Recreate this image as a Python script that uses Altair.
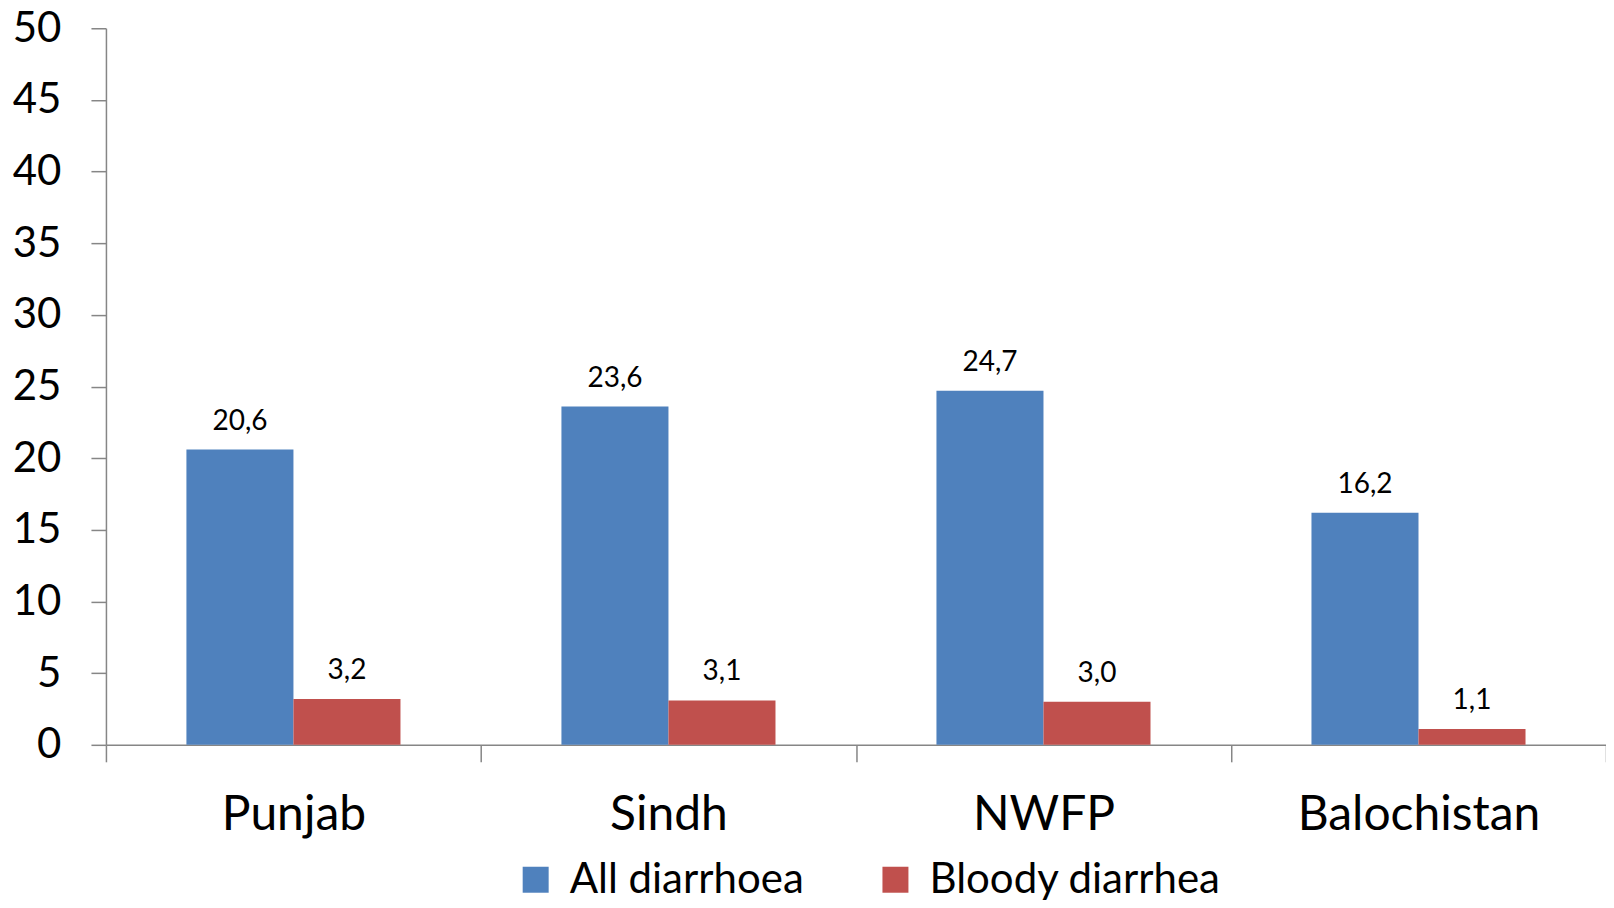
import altair as alt
import pandas as pd

regions = ["Punjab", "Sindh", "NWFP", "Balochistan"]
series = ["All diarrhoea", "Bloody diarrhea"]
all_diarrhoea = [20.6, 23.6, 24.7, 16.2]
bloody_diarrhea = [3.2, 3.1, 3.0, 1.1]
colors = ["#4F81BD", "#C0504D"]

rows = []
for r, a, b in zip(regions, all_diarrhoea, bloody_diarrhea):
    rows.append({"region": r, "series": series[0], "value": a})
    rows.append({"region": r, "series": series[1], "value": b})
df = pd.DataFrame(rows)

FONT = "Lato"
axis_color = "#868686"

x_enc = alt.X("region:N", sort=regions, title=None,
              scale=alt.Scale(paddingInner=0, paddingOuter=0),
              axis=alt.Axis(labelAngle=0, labelFontSize=48, labelFont=FONT, labelColor="black",
                            labelLimit=0, tickBand="extent", tickSize=17, tickColor=axis_color,
                            grid=False, domainColor=axis_color, labelPadding=30,
                            tickWidth=1.5, domainWidth=1.5))
y_enc = alt.Y("value:Q", title=None,
              scale=alt.Scale(domain=[0, 50]),
              axis=alt.Axis(values=list(range(0, 51, 5)), labelFontSize=42, labelFont=FONT,
                            labelColor="black", tickSize=15, tickColor=axis_color,
                            domainColor=axis_color, labelPadding=30, grid=False,
                            tickWidth=1.5, domainWidth=1.5))
xo = alt.XOffset("series:N", sort=series,
                 scale=alt.Scale(paddingInner=0, paddingOuter=0.752))

base = alt.Chart(df).encode(x=x_enc, xOffset=xo)

bars = base.mark_bar().encode(
    y=y_enc,
    color=alt.Color("series:N", sort=series,
                    scale=alt.Scale(domain=series, range=colors),
                    legend=alt.Legend(title=None, orient="none", direction="horizontal",
                                      legendX=409, legendY=831,
                                      labelFontSize=42, labelFont=FONT, labelColor="black",
                                      labelLimit=0, labelBaseline="middle",
                                      symbolType="square", symbolSize=676, symbolStrokeWidth=0,
                                      columnPadding=70, labelOffset=13)),
)

labels = base.transform_calculate(
    label="replace(format(datum.value, '.1f'), '.', ',')"
).mark_text(fontSize=28, font=FONT, color="black", baseline="alphabetic", dy=-20).encode(
    y=alt.Y("value:Q"),
    text="label:N",
)

chart = alt.layer(bars, labels).properties(
    width=1501, height=717,
    autosize=alt.AutoSizeParams(type="none"),
    padding={"left": 98, "top": 20, "right": 0, "bottom": 162},
).configure(background="white").configure_view(stroke=None)

chart.save("out.html", embed_options={"renderer": "svg", "actions": False})
